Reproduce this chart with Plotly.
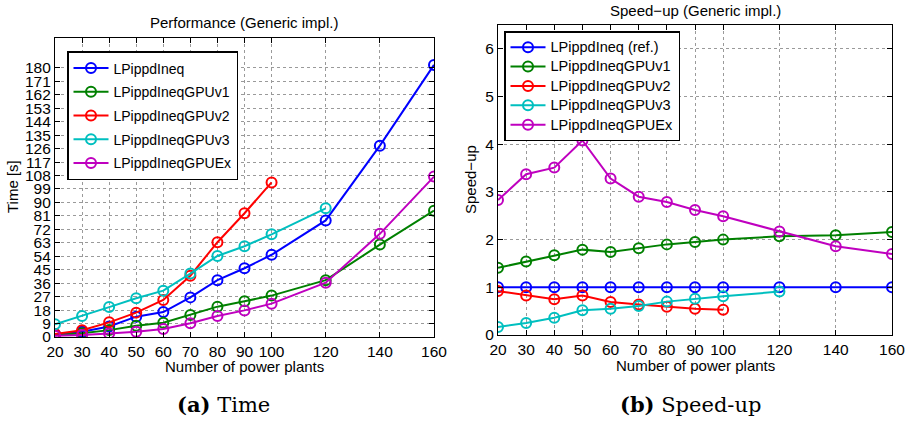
import plotly.graph_objects as go

# ---------------- data ----------------
x_all = [20, 30, 40, 50, 60, 70, 80, 90, 100, 120, 140, 160]
x_v2 = [20, 30, 40, 50, 60, 70, 80, 90, 100]
x_v3 = [20, 30, 40, 50, 60, 70, 80, 90, 100, 120]

names_time = ["LPippdIneq", "LPippdIneqGPUv1", "LPippdIneqGPUv2", "LPippdIneqGPUv3", "LPippdIneqGPUEx"]
names_speed = ["LPippdIneq (ref.)", "LPippdIneqGPUv1", "LPippdIneqGPUv2", "LPippdIneqGPUv3", "LPippdIneqGPUEx"]

time_base = [1.8, 3.5, 7.0, 13.6, 16.7, 26.5, 38.0, 46.0, 55.0, 78.0, 128.0, 182.0]
time_v1 = [1.2, 2.5, 4.6, 7.6, 9.6, 14.7, 20.3, 23.9, 27.7, 38.0, 61.8, 84.5]
time_v2 = [2.0, 4.5, 9.8, 16.3, 24.8, 41.0, 63.4, 82.8, 103.4]
time_v3 = [8.5, 14.0, 20.0, 25.9, 31.0, 42.4, 54.2, 60.7, 68.7, 86.1]
time_ex = [0.9, 1.3, 2.4, 3.5, 5.3, 9.2, 14.0, 17.8, 22.3, 36.3, 69.0, 107.3]

speed_base = [1, 1, 1, 1, 1, 1, 1, 1, 1, 1, 1, 1]
speed_v1 = [1.41, 1.54, 1.67, 1.79, 1.74, 1.82, 1.90, 1.95, 2.00, 2.07, 2.09, 2.16]
speed_v2 = [0.92, 0.83, 0.75, 0.83, 0.69, 0.64, 0.59, 0.55, 0.53]
speed_v3 = [0.17, 0.25, 0.36, 0.52, 0.55, 0.61, 0.70, 0.76, 0.81, 0.91]
speed_ex = [2.83, 3.37, 3.51, 4.08, 3.28, 2.90, 2.79, 2.62, 2.49, 2.17, 1.86, 1.70]

x_ticks = [20, 30, 40, 50, 60, 70, 80, 90, 100, 120, 140, 160]
y_ticks_time = list(range(0, 181, 9))
y_ticks_speed = [0, 1, 2, 3, 4, 5, 6]

colors = ["#0000ff", "#008000", "#ff0000", "#00bfbf", "#bf00bf"]

W, H = 906, 424

fig = go.Figure()

time_series = [(x_all, time_base), (x_all, time_v1), (x_v2, time_v2), (x_v3, time_v3), (x_all, time_ex)]
speed_series = [(x_all, speed_base), (x_all, speed_v1), (x_v2, speed_v2), (x_v3, speed_v3), (x_all, speed_ex)]

for i, (xs, ys) in enumerate(time_series):
    fig.add_trace(go.Scatter(
        x=xs, y=ys, name=names_time[i], mode="lines+markers",
        line=dict(color=colors[i], width=2),
        marker=dict(symbol="circle-open", size=10, color=colors[i], line=dict(width=2, color=colors[i])),
        xaxis="x", yaxis="y", legend="legend", legendgroup="t%d" % i,
    ))
for i, (xs, ys) in enumerate(speed_series):
    fig.add_trace(go.Scatter(
        x=xs, y=ys, name='<span style="font-size:14.5px">%s</span>' % names_speed[i],
        mode="lines+markers",
        line=dict(color=colors[i], width=2),
        marker=dict(symbol="circle-open", size=10, color=colors[i], line=dict(width=2, color=colors[i])),
        xaxis="x2", yaxis="y2", legend="legend2", legendgroup="s%d" % i,
    ))

def px_x(p):
    return p / W

def px_y(p):
    return (H - p) / H

axis_common = dict(
    showline=True, linecolor="black", linewidth=1.2, mirror="allticks",
    ticks="inside", ticklen=5, tickcolor="black", tickwidth=1,
    showgrid=True, gridcolor="#9a9a9a", griddash="dot", gridwidth=1,
    zeroline=False, automargin=False,
    tickfont=dict(family="Liberation Sans, Arial", size=15.5, color="black"),
)

fig.update_layout(
    width=W, height=H, margin=dict(l=0, r=0, t=0, b=0, autoexpand=False),
    paper_bgcolor="white", plot_bgcolor="white",
    xaxis=dict(domain=[px_x(55), px_x(434)], range=[20, 160], tickvals=x_ticks, anchor="y", **axis_common),
    yaxis=dict(domain=[px_y(337), px_y(38)], range=[0, 200], tickvals=y_ticks_time, anchor="x", **axis_common),
    xaxis2=dict(domain=[px_x(498), px_x(892)], range=[20, 160], tickvals=x_ticks, anchor="y2", **axis_common),
    yaxis2=dict(domain=[px_y(335), px_y(25)], range=[0, 6.5], tickvals=y_ticks_speed, anchor="x2", **axis_common),
    legend=dict(x=px_x(67), y=px_y(51), xanchor="left", yanchor="top",
                bgcolor="white", bordercolor="black", borderwidth=1.5,
                font=dict(family="Liberation Sans, Arial", size=14, color="black"),
                itemwidth=35, traceorder="grouped", tracegroupgap=2.5),
    legend2=dict(x=px_x(504), y=px_y(31), xanchor="left", yanchor="top",
                 bgcolor="white", bordercolor="black", borderwidth=1.5,
                 font=dict(family="Liberation Sans, Arial", size=12.6, color="black"),
                 itemwidth=35, traceorder="grouped", tracegroupgap=0),
    showlegend=True,
)

font_sans = dict(family="Liberation Sans, Arial", size=15, color="black")
annots = [
    dict(text="Performance (Generic impl.)", x=px_x(244), y=px_y(22), font=font_sans),
    dict(text="Speed\u2212up (Generic impl.)", x=px_x(695), y=px_y(10.5), font=font_sans),
    dict(text="Number of power plants", x=px_x(244), y=px_y(366), font=font_sans),
    dict(text="Number of power plants", x=px_x(695), y=px_y(365), font=font_sans),
    dict(text="Time [s]", x=px_x(12), y=px_y(187), font=font_sans, textangle=-90),
    dict(text="Speed\u2212up", x=px_x(470), y=px_y(180), font=font_sans, textangle=-90),
    dict(text="<b>(a)</b> Time", x=px_x(223), y=px_y(404),
         font=dict(family="DejaVu Serif, Liberation Serif", size=21, color="black")),
    dict(text="<b>(b)</b> Speed-up", x=px_x(690), y=px_y(404),
         font=dict(family="DejaVu Serif, Liberation Serif", size=21, color="black")),
]
for a in annots:
    fig.add_annotation(xref="paper", yref="paper", showarrow=False, borderpad=0,
                       xanchor="center", yanchor="middle", **a)

fig.write_html(
    "out.html",
    config={"responsive": False, "displayModeBar": False},
    post_script="document.body.style.margin='0';document.body.style.overflow='hidden';",
)
